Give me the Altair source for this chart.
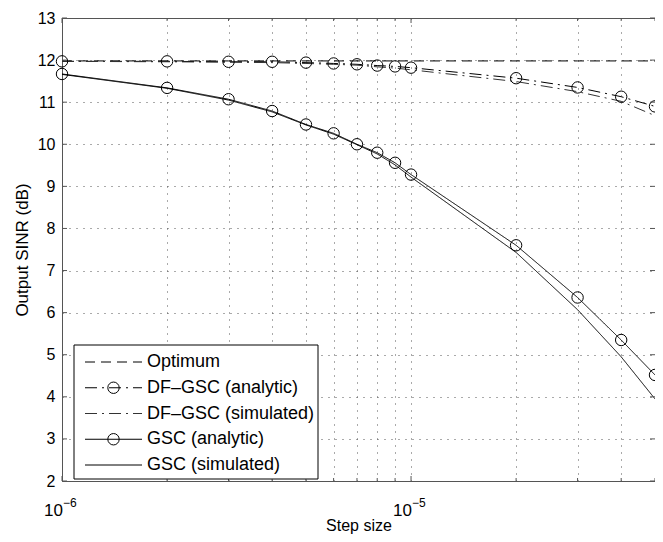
import altair as alt
import pandas as pd

# ---------------- data ----------------
step = [1e-6, 2e-6, 3e-6, 4e-6, 5e-6, 6e-6, 7e-6, 8e-6, 9e-6,
        1e-5, 2e-5, 3e-5, 4e-5, 5e-5]
optimum = [11.98] * 14
df_analytic = [11.97, 11.97, 11.96, 11.96, 11.94, 11.92, 11.90, 11.87, 11.85,
               11.82, 11.57, 11.35, 11.13, 10.90]
df_simulated = [11.97, 11.96, 11.95, 11.94, 11.92, 11.90, 11.88, 11.84, 11.81,
                11.77, 11.49, 11.25, 11.02, 10.68]
gsc_analytic = [11.67, 11.34, 11.07, 10.79, 10.47, 10.26, 10.00, 9.80, 9.56,
                9.28, 7.60, 6.36, 5.35, 4.52]
gsc_simulated = [11.66, 11.33, 11.05, 10.77, 10.46, 10.24, 9.99, 9.77, 9.51,
                 9.22, 7.43, 6.07, 4.95, 3.95]

series_names = ["Optimum", "DF\u2013GSC (analytic)", "DF\u2013GSC (simulated)",
                "GSC (analytic)", "GSC (simulated)"]
series_values = [optimum, df_analytic, df_simulated, gsc_analytic, gsc_simulated]
has_marker = [False, True, False, True, False]

y_ticks = list(range(2, 14))
x_major = [1e-6, 1e-5]
x_exponents = ["\u22126", "\u22125"]
x_minor = [v for v in step if v not in x_major]

# ---------------- tables ----------------
rows = []
for name, vals in zip(series_names, series_values):
    for s, v in zip(step, vals):
        rows.append({"series": name, "step": s, "sinr": v})
data = pd.DataFrame(rows)
marker_names = [n for n, m in zip(series_names, has_marker) if m]
leg_df = pd.DataFrame({"series": series_names, "row": list(range(len(series_names))),
                       "marker": has_marker})

# ---------------- style ----------------
W, H = 593, 463
FONT = "Liberation Sans"
FRAME = "#555555"
dash_range = [[10, 6], [12, 5, 2, 5], [12, 5, 2, 5], [1, 0], [1, 0]]
color_range = ["#000000", "#000000", "#333333", "#000000", "#000000"]

xscale = alt.Scale(type="log", domain=[1e-6, 5e-5], nice=False)
yscale = alt.Scale(domain=[2, 13], nice=False)

x_axis = alt.Axis(values=step, grid=True, labels=False, ticks=False, domain=False,
                  title="Step size", titlePadding=36, titleFontSize=16,
                  titleFontWeight="normal", titleFont=FONT, titleColor="black",
                  gridDash=[1, 6], gridColor="#555555", gridWidth=1)
y_axis = alt.Axis(values=y_ticks, grid=True, ticks=False, domain=False,
                  labelFontSize=16, labelFont=FONT, labelColor="black",
                  labelPadding=7, labelFlush=False,
                  title="Output SINR (dB)", titleFontSize=17, titleFont=FONT,
                  titleFontWeight="normal", titleColor="black", titlePadding=6,
                  gridDash=[1, 6], gridColor="#555555", gridWidth=1)

x_enc = alt.X("step:Q", scale=xscale, axis=x_axis)
y_enc = alt.Y("sinr:Q", scale=yscale, axis=y_axis)
color_enc = alt.Color("series:N", scale=alt.Scale(domain=series_names, range=color_range),
                      legend=None)
dash_enc = alt.StrokeDash("series:N", scale=alt.Scale(domain=series_names, range=dash_range),
                          legend=None)

lines = alt.Chart(data).mark_line(strokeWidth=1).encode(
    x=x_enc, y=y_enc, color=color_enc, strokeDash=dash_enc, detail="series:N")

points = alt.Chart(data).transform_filter(
    alt.FieldOneOfPredicate(field="series", oneOf=marker_names)
).mark_point(shape="circle", size=130, filled=False, color="black",
             strokeWidth=1, opacity=1).encode(x=x_enc, y=y_enc)

ytick_df = pd.DataFrame({"sinr": y_ticks})
ytl = alt.Chart(ytick_df).mark_rule(color=FRAME, strokeWidth=1).encode(
    y=y_enc, x=alt.value(0), x2=alt.value(5))
ytr = alt.Chart(ytick_df).mark_rule(color=FRAME, strokeWidth=1).encode(
    y=y_enc, x=alt.value(W - 5), x2=alt.value(W))

xmaj_df = pd.DataFrame({"step": x_major, "exp": x_exponents})
xmin_df = pd.DataFrame({"step": x_minor})
xtb_maj = alt.Chart(xmaj_df).mark_rule(color=FRAME, strokeWidth=1).encode(
    x=x_enc, y=alt.value(H), y2=alt.value(H - 5))
xtt_maj = alt.Chart(xmaj_df).mark_rule(color=FRAME, strokeWidth=1).encode(
    x=x_enc, y=alt.value(0), y2=alt.value(5))
xtb_min = alt.Chart(xmin_df).mark_rule(color=FRAME, strokeWidth=1).encode(
    x=x_enc, y=alt.value(H), y2=alt.value(H - 3))
xtt_min = alt.Chart(xmin_df).mark_rule(color=FRAME, strokeWidth=1).encode(
    x=x_enc, y=alt.value(0), y2=alt.value(3))

tens = alt.Chart(xmaj_df).mark_text(text="10", align="right", baseline="alphabetic",
                                    fontSize=17, font=FONT, dx=1, color="black").encode(
    x=x_enc, y=alt.value(H + 35))
exps = alt.Chart(xmaj_df).mark_text(align="left", baseline="alphabetic", fontSize=12,
                                    font=FONT, dx=1, color="black").encode(
    x=x_enc, y=alt.value(H + 26), text="exp:N")

main = alt.layer(lines, points, ytl, ytr, xtb_maj, xtt_maj, xtb_min, xtt_min, tens, exps)

# ---------------- legend ----------------
leg_y = alt.Y("row:Q", scale=alt.Scale(domain=[0, 4], range=[344, 447], nice=False),
              axis=None)
box = alt.Chart(pd.DataFrame({"row": [0]})).mark_rect(
    fill="white", stroke="black", strokeWidth=1).encode(
    x=alt.value(12), x2=alt.value(256), y=alt.value(327), y2=alt.value(461))
samples = alt.Chart(leg_df).mark_rule(strokeWidth=1).encode(
    x=alt.value(23), x2=alt.value(80), y=leg_y, color=color_enc, strokeDash=dash_enc)
lcirc = alt.Chart(leg_df).transform_filter("datum.marker").mark_point(
    shape="circle", size=130, filled=False, color="black", strokeWidth=1, opacity=1
).encode(x=alt.value(51.5), y=leg_y)
ltext = alt.Chart(leg_df).mark_text(align="left", baseline="middle", fontSize=18,
                                    font=FONT, color="black").encode(
    x=alt.value(85), y=leg_y, text="series:N")
legend = alt.layer(box, samples, lcirc, ltext)

chart = alt.layer(main, legend).resolve_scale(y="independent").properties(
    width=W, height=H,
    padding={"left": 54, "top": 10, "right": 0, "bottom": 53},
    autosize=alt.AutoSizeParams(type="none"),
    background="white",
).configure_view(stroke=FRAME, strokeWidth=1)

chart.save("out.html", embed_options={"renderer": "svg", "actions": False})
